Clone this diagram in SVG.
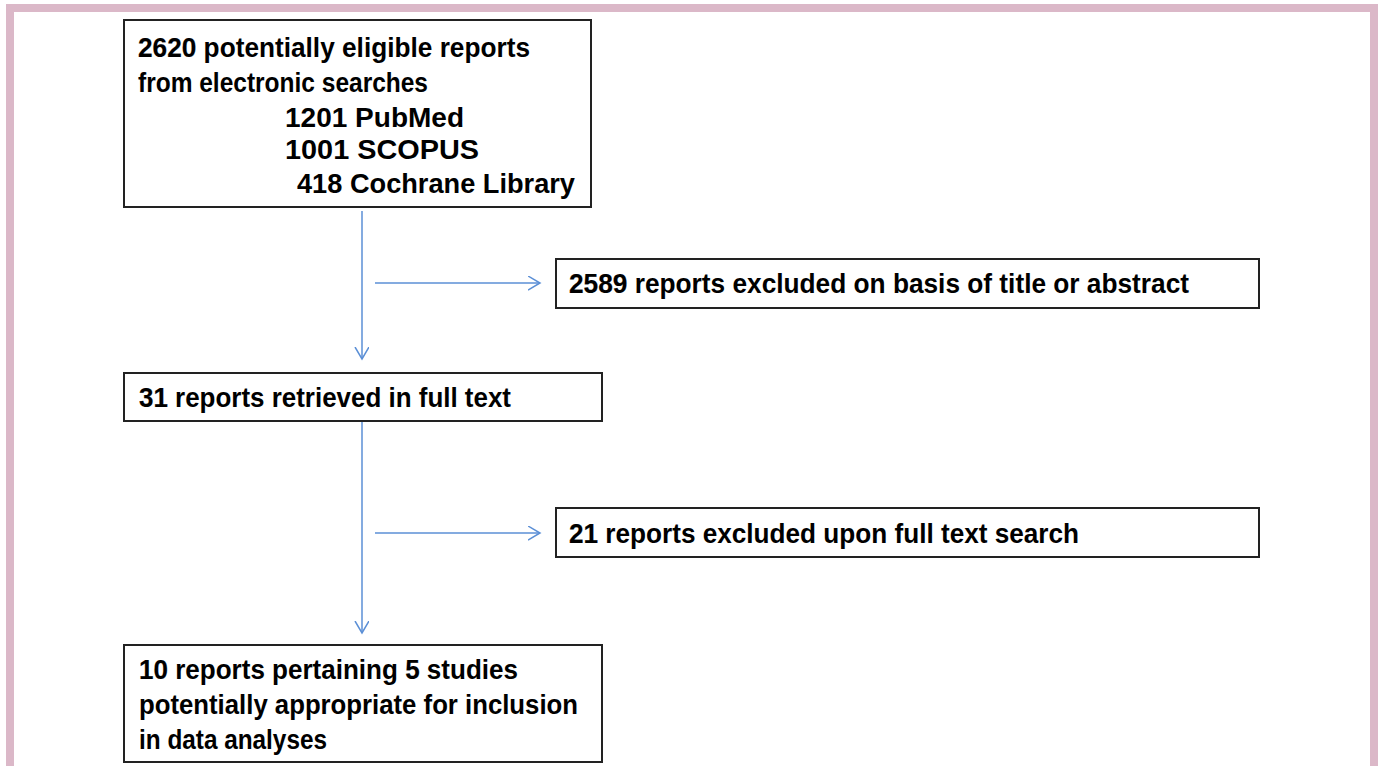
<svg xmlns="http://www.w3.org/2000/svg" width="1378" height="766" viewBox="0 0 1378 766">
<defs>
<marker id="arr" markerUnits="userSpaceOnUse" markerWidth="20" markerHeight="20" refX="12" refY="7" orient="auto">
<path d="M0,0 L12,7 L0,14" fill="none" stroke="#5b8fd6" stroke-width="1.5"/>
</marker>
<style>
.box{fill:#fff;stroke:#222;stroke-width:2}
.t{font-family:"Liberation Sans",Arial,sans-serif;font-size:27px;fill:#000;font-weight:bold}
.r{stroke:#000;stroke-width:0.2}
.c{fill:none;stroke:#5b8fd6;stroke-width:1.5}
</style>
</defs>
<rect x="0" y="0" width="1378" height="766" fill="#fff"/>
<path d="M10,766 V8 H1374 V766" fill="none" stroke="#dbb8c8" stroke-width="8"/>
<g id="connectors">
<line class="c" x1="362" y1="211" x2="362" y2="359" marker-end="url(#arr)"/>
<line class="c" x1="375" y1="283" x2="540" y2="283" marker-end="url(#arr)"/>
<line class="c" x1="362" y1="422" x2="362" y2="633" marker-end="url(#arr)"/>
<line class="c" x1="375" y1="533" x2="540" y2="533" marker-end="url(#arr)"/>
</g>
<g id="n1">
<rect class="box" x="124" y="20" width="467" height="187"/>
<text class="t" x="138" y="57" textLength="392" lengthAdjust="spacingAndGlyphs"><tspan class="r">2620</tspan> potentially eligible reports</text>
<text class="t" x="138" y="92" textLength="290" lengthAdjust="spacingAndGlyphs">from electronic searches</text>
<text class="t" x="285" y="127" textLength="179" lengthAdjust="spacingAndGlyphs">1201 PubMed</text>
<text class="t" x="285" y="159" textLength="194" lengthAdjust="spacingAndGlyphs">1001 SCOPUS</text>
<text class="t" x="297" y="193" textLength="278" lengthAdjust="spacingAndGlyphs">418 Cochrane Library</text>
</g>
<g id="n2">
<rect class="box" x="556" y="259" width="703" height="49"/>
<text class="t" x="569" y="293" textLength="620" lengthAdjust="spacingAndGlyphs"><tspan class="r">2589</tspan> reports excluded on basis of title or abstract</text>
</g>
<g id="n3">
<rect class="box" x="124" y="373" width="478" height="48"/>
<text class="t" x="139" y="407" textLength="372" lengthAdjust="spacingAndGlyphs"><tspan class="r">31</tspan> reports retrieved in full text</text>
</g>
<g id="n4">
<rect class="box" x="556" y="508" width="703" height="49"/>
<text class="t" x="569" y="543" textLength="510" lengthAdjust="spacingAndGlyphs"><tspan class="r">21</tspan> reports excluded upon full text search</text>
</g>
<g id="n5">
<rect class="box" x="124" y="645" width="478" height="117"/>
<text class="t" x="139" y="679" textLength="379" lengthAdjust="spacingAndGlyphs"><tspan class="r">10</tspan> reports pertaining <tspan class="r">5</tspan> studies</text>
<text class="t" x="139" y="714" textLength="439" lengthAdjust="spacingAndGlyphs">potentially appropriate for inclusion</text>
<text class="t" x="139" y="749" textLength="188" lengthAdjust="spacingAndGlyphs">in data analyses</text>
</g>
</svg>
